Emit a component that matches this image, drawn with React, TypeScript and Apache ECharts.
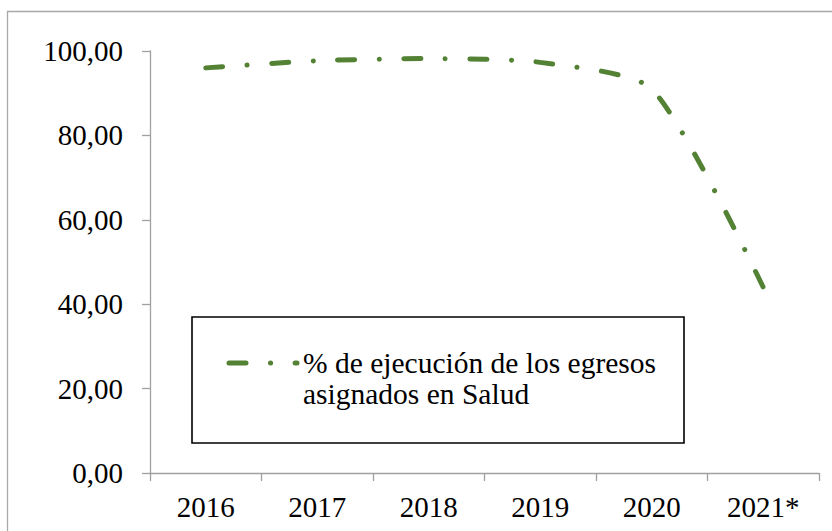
import React, { useEffect, useRef } from "react";
import * as echarts from "echarts";

const categories = ["2016", "2017", "2018", "2019", "2020", "2021*"];
const ejecucion = [96.0, 97.7, 98.2, 97.3, 91.0, 44.0];
const seriesName = "% de ejecución de los egresos asignados en Salud";
const legendLines = ["% de ejecución de los egresos", "asignados en Salud"];
const yMin = 0;
const yMax = 100;
const yStep = 20;

const GREEN = "#548235";
const AXIS = "#a0a0a0";
const FONT = "Liberation Serif";
const DASH = [17, 24.5, 0.1, 24.5];

export default function App() {
  const ref = useRef<HTMLDivElement>(null);
  useEffect(() => {
    document.body.style.margin = "0";
    const chart = echarts.init(ref.current!, undefined, { renderer: "svg" });
    chart.setOption({
      animation: false,
      backgroundColor: "#ffffff",
      grid: { left: 150, right: 13, top: 51, bottom: 58, containLabel: false },
      xAxis: {
        type: "category",
        data: categories,
        boundaryGap: true,
        axisLine: { show: true, lineStyle: { color: AXIS, width: 1.3 } },
        axisTick: { show: true, length: 8, alignWithLabel: false, lineStyle: { color: AXIS, width: 1.3 } },
        axisLabel: { color: "#000", fontFamily: FONT, fontSize: 29, margin: 19 },
        splitLine: { show: false },
      },
      yAxis: {
        type: "value",
        min: yMin,
        max: yMax,
        interval: yStep,
        axisLine: { show: true, lineStyle: { color: AXIS, width: 1.3 } },
        axisTick: { show: true, length: 8, inside: false, lineStyle: { color: AXIS, width: 1.3 } },
        axisLabel: {
          color: "#000",
          fontFamily: FONT,
          fontSize: 29,
          margin: 27,
          formatter: (v: number) => v.toFixed(2).replace(".", ","),
        },
        splitLine: { show: false },
      },
      series: [
        {
          name: seriesName,
          type: "line",
          data: ejecucion,
          smooth: 0.22,
          symbol: "none",
          lineStyle: { color: GREEN, width: 5, type: DASH, cap: "round" },
        },
      ],
      graphic: [
        {
          type: "rect",
          silent: true,
          shape: { x: 7.5, y: 11.5, width: 1000, height: 1000 },
          style: { fill: "none", stroke: "#a8a8a8", lineWidth: 1.3 },
          z: 0,
        },
        {
          type: "rect",
          shape: { x: 192, y: 317, width: 492, height: 126 },
          style: { fill: "#ffffff", stroke: "#000000", lineWidth: 1.6 },
          z: 10,
        },
        {
          type: "line",
          shape: { x1: 229, y1: 363, x2: 297, y2: 363 },
          style: { stroke: GREEN, lineWidth: 5, lineDash: DASH, lineCap: "round" },
          z: 11,
        },
        {
          type: "text",
          x: 303,
          y: 347,
          style: {
            text: legendLines.join("\n"),
            font: `29.5px "${FONT}"`,
            lineHeight: 31,
            fill: "#000",
          },
          z: 11,
        },
      ],
    });
    return () => chart.dispose();
  }, []);
  return <div ref={ref} style={{ width: 832, height: 531 }} />;
}
